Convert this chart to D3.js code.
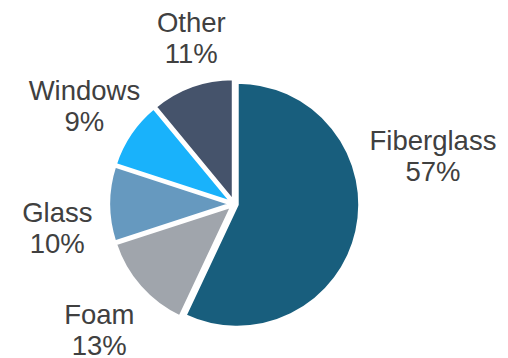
<!DOCTYPE html>
<html>
<head>
<meta charset="utf-8">
<script src="https://cdn.jsdelivr.net/npm/d3@7"></script>
<style>
  html, body { margin: 0; padding: 0; background: #fff; }
  svg { display: block; }
</style>
</head>
<body>
<svg id="chart" width="508" height="358"></svg>
<script>
// Insulation material shares (percent), drawn clockwise from 12 o'clock
const categories = ["Fiberglass", "Foam", "Glass", "Windows", "Other"];
const shares = [57, 13, 10, 9, 11];
const shareLabels = ["57%", "13%", "10%", "9%", "11%"];
const colors = ["#185E7D", "#A0A5AC", "#6699BF", "#19B2FB", "#45536B"];

// Layout
const cx = 234.3, cy = 204, radius = 122.5;
const explode = 3;          // each slice pulled slightly off centre
const labelRadius = 180;
// Fine adjustments of each label around its radial anchor
const labelNudge = [[23, -88], [0, 6], [3, 23], [-1, 3], [18, 3]];
const fontSize = 27.5, lineGap = 31, capHeight = 20;

const svg = d3.select("#chart");
const g = svg.append("g").attr("transform", `translate(${cx},${cy})`);

const rows = categories.map((c, i) => ({ name: c, value: shares[i], label: shareLabels[i], color: colors[i], i }));

const pie = d3.pie().sort(null).value(d => d.value);
const arcs = pie(rows);

const arc = d3.arc().innerRadius(0).outerRadius(radius);
const labelArc = d3.arc().innerRadius(labelRadius).outerRadius(labelRadius);

function offset(d, dist) {
  const a = (d.startAngle + d.endAngle) / 2;
  return [Math.sin(a) * dist, -Math.cos(a) * dist];
}

g.selectAll("path.slice")
  .data(arcs)
  .join("path")
  .attr("class", "slice")
  .attr("d", arc)
  .attr("transform", d => `translate(${offset(d, explode)})`)
  .attr("fill", d => d.data.color)
  .attr("stroke", "#fff")
  .attr("stroke-width", 3)
  .attr("stroke-linejoin", "round");

const labels = g.selectAll("text.lbl")
  .data(arcs)
  .join("text")
  .attr("class", "lbl")
  .attr("text-anchor", "middle")
  .attr("font-family", "Liberation Sans, Arial, sans-serif")
  .attr("font-size", fontSize)
  .attr("fill", "#404040")
  .attr("transform", d => {
    const [x, y] = labelArc.centroid(d);
    const [nx, ny] = labelNudge[d.data.i];
    return `translate(${x + nx},${y + ny})`;
  });

// Two-line label: name above, share below, block centred on the anchor
labels.append("tspan")
  .attr("x", 0)
  .attr("y", (capHeight - lineGap) / 2)
  .text(d => d.data.name);
labels.append("tspan")
  .attr("x", 0)
  .attr("y", (capHeight + lineGap) / 2)
  .text(d => d.data.label);
</script>
</body>
</html>
